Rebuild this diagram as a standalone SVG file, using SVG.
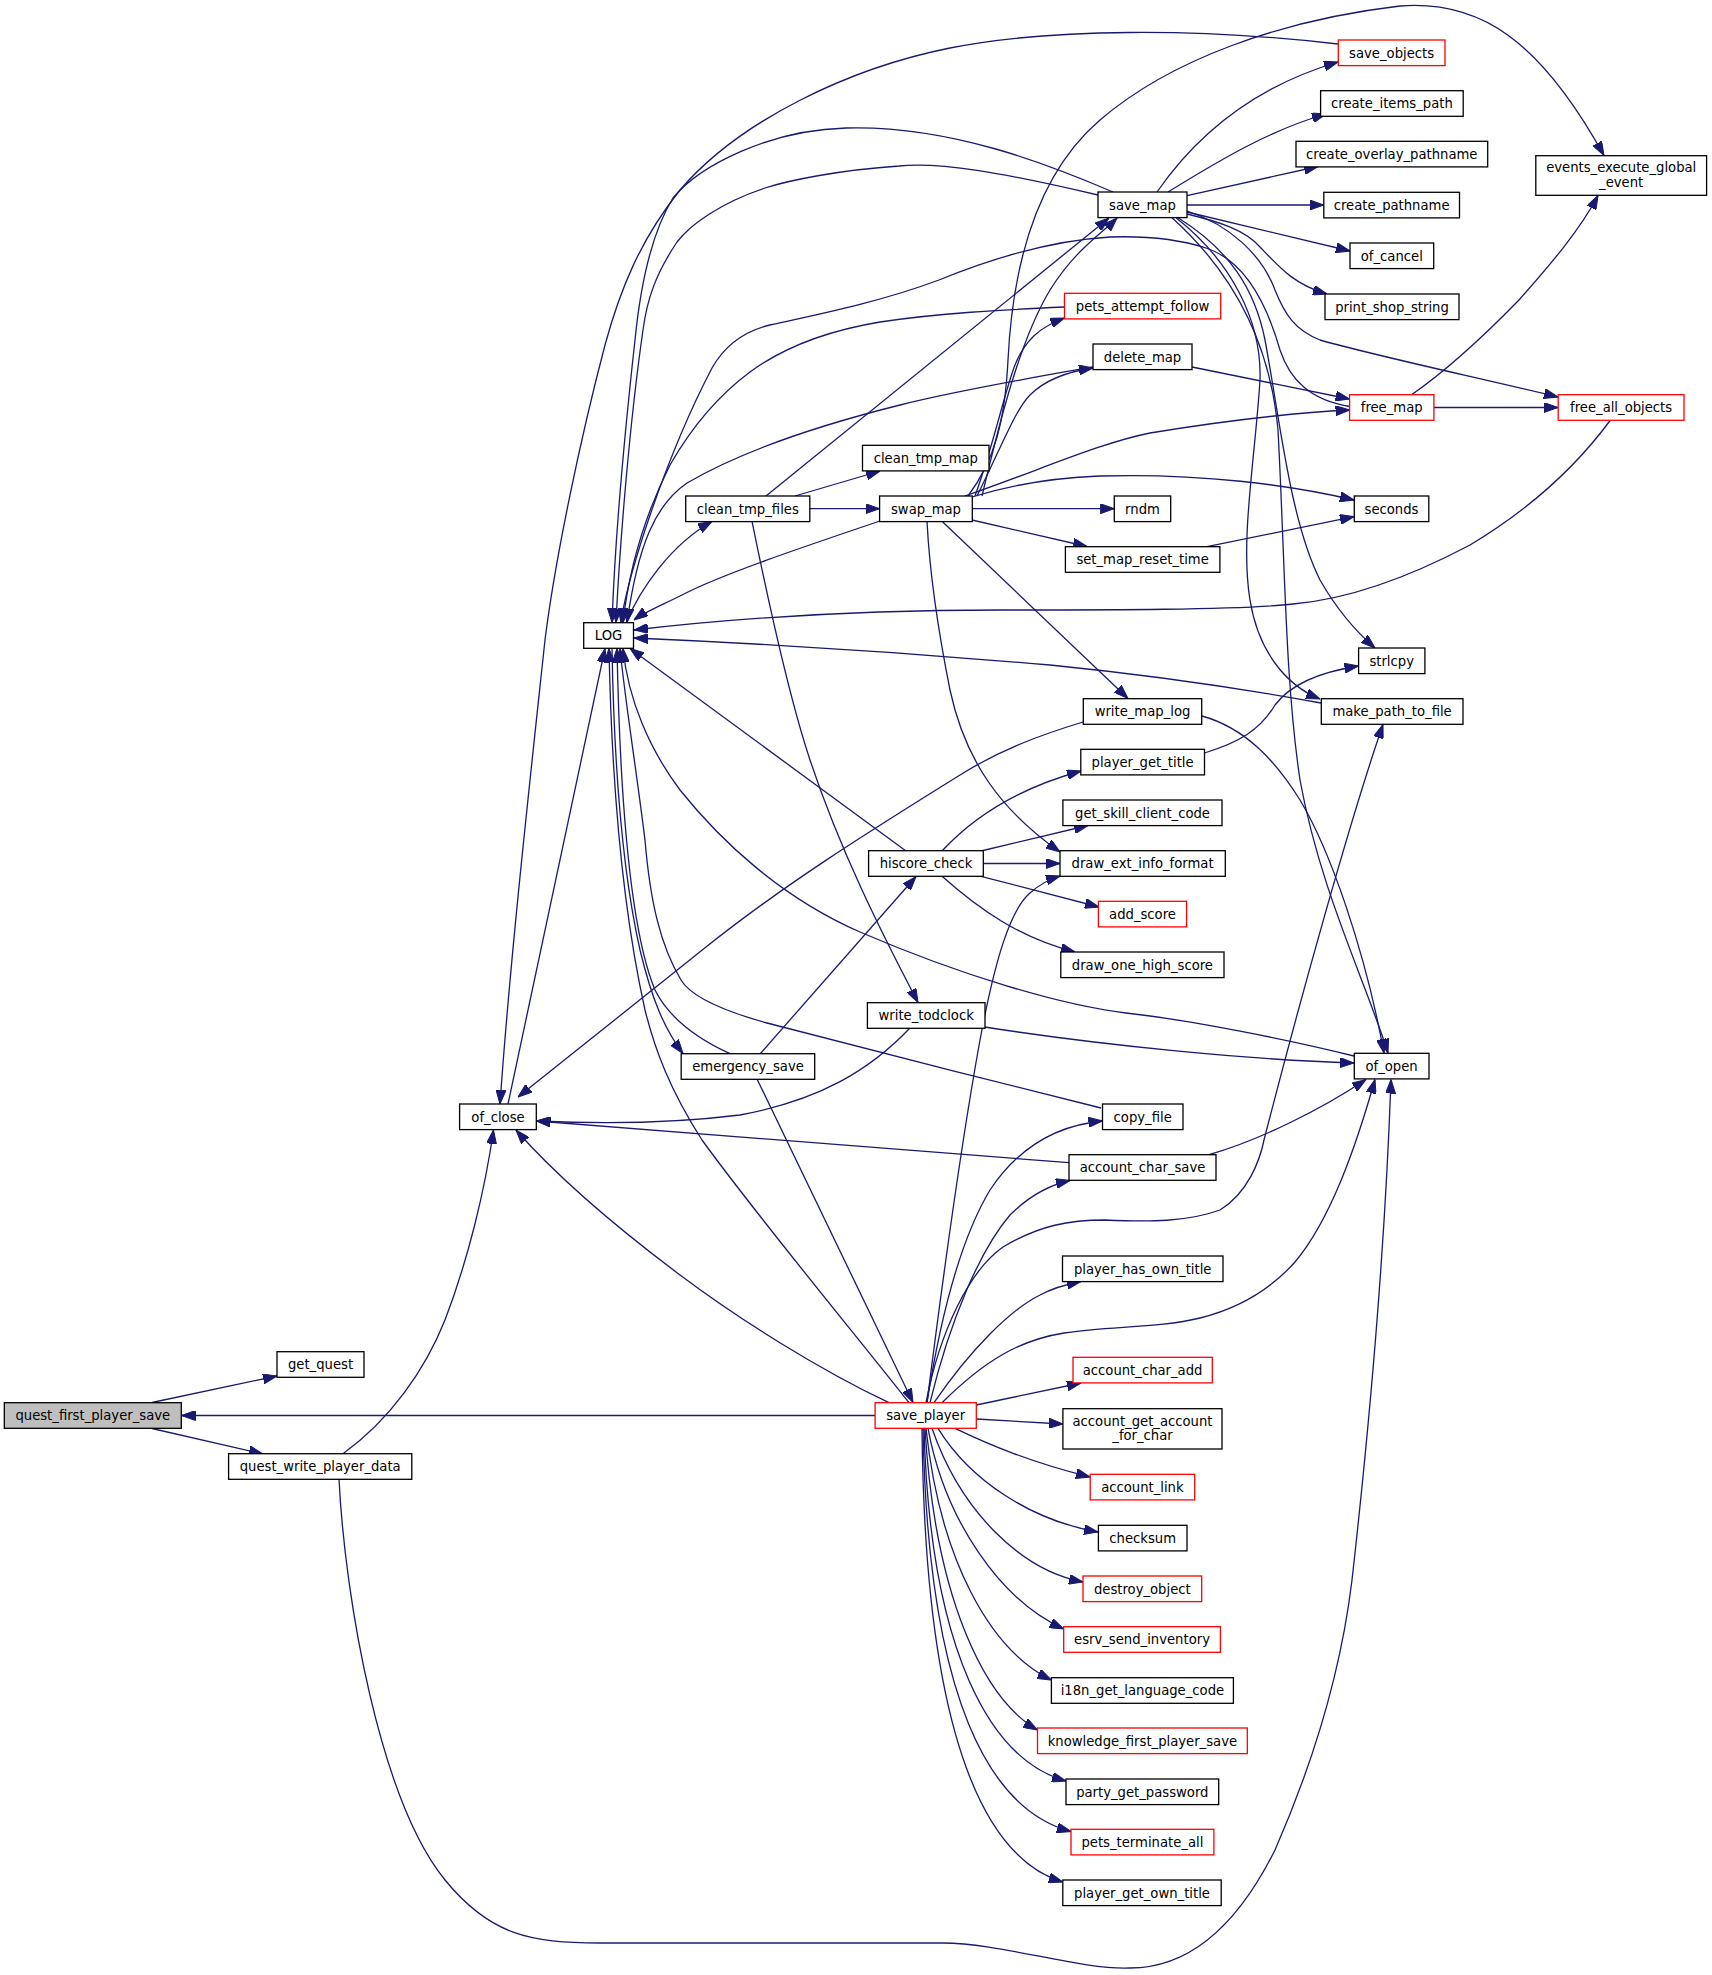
<svg xmlns="http://www.w3.org/2000/svg" width="1712" height="1975" viewBox="0 0 1712 1975">
<style>
.n rect{fill:#ffffff;stroke:#000000;stroke-width:1.3}
.n.r rect{stroke:#ff0000}
.n.root rect{fill:#bfbfbf}
.n text{font-family:"DejaVu Sans",sans-serif;font-size:13.2px;fill:#000;text-anchor:middle}
.e path{fill:none;stroke:#191970;stroke-width:1.3;marker-end:url(#ah)}
</style>
<defs>
<marker id="ah" markerUnits="userSpaceOnUse" markerWidth="14" markerHeight="10" viewBox="0 0 14 10" refX="14" refY="5" orient="auto">
<path d="M0,0 L14,5 L0,10 z" fill="#191970" stroke="#191970" stroke-width="1"/>
</marker>
</defs>
<rect width="1712" height="1975" fill="#ffffff"/>
<g id="connectors" class="e">
<path d="M152,1402.5 L277,1376"/>
<path d="M152,1428.5 L263,1454"/>
<path d="M875,1415.5 L181.5,1415.5"/>
<path d="M343,1453.7 C390,1420 425,1370 445,1320 C468,1260 485,1190 493.5,1130"/>
<path d="M339,1479 C345,1600 380,1800 445,1880 C490,1935 530,1943 600,1943 L943,1943 C1000,1943 1080,1970 1130,1968 C1200,1968 1245,1910 1275,1850 C1310,1770 1340,1680 1352,1580 C1370,1420 1385,1250 1391,1079.5"/>
<path d="M508,1104 L605,648.5"/>
<path d="M1338,44 C1200,28 1050,28 950,48 C850,68 740,120 680,190 C640,240 620,290 605,345 C580,440 555,560 545,640 C530,780 510,960 500,1104"/>
<path d="M1113,192 C1050,165 950,125 846,128 C770,130 700,165 673,198 C650,235 640,290 635,340 C625,430 615,540 612,622.5"/>
<path d="M1098,195 C1000,172 940,162 899,166 C840,170 790,180 765,188 C720,203 690,225 677,242 C655,275 647,300 643,330 C630,420 620,540 616,622.5"/>
<path d="M1349.6,406.5 C1310,400 1290,380 1280,350 C1270,315 1250,262 1206,248 C1175,238 1140,236 1110,237 C1060,240 1000,255 939,280 C880,302 820,314 770,325 C745,331 725,345 712,368 C690,410 665,470 645,530 C632,570 624,600 621,622.5"/>
<path d="M1064.5,307 C1000,310 940,313 880,322 C820,332 780,350 750,372 C715,398 690,430 670,465 C650,505 630,560 623,622.5"/>
<path d="M1093,367 C1030,378 960,390 900,405 C820,425 740,452 687,483 C655,505 638,545 627,622.5"/>
<path d="M626,622.7 C640,590 670,545 712,521.5"/>
<path d="M880,521 C800,548 720,575 682,595 C660,606 645,612 634,620"/>
<path d="M1610.5,420 C1570,475 1520,515 1470,545 C1400,582 1340,600 1293,604 C1240,610 1100,610 1000,610 C850,610 720,620 634,630"/>
<path d="M1321,703 C1250,690 1150,675 1050,665 C900,652 750,643 634,638"/>
<path d="M1354,1056 C1290,1040 1190,1020 1126,1013 C1060,1005 960,975 860,932 C780,897 720,840 680,790 C650,750 628,700 623,648.5"/>
<path d="M1101,1108 C1000,1083 850,1045 767,1023 C720,1010 690,995 681,980 C660,945 650,900 645,840 C635,760 625,700 620,648.5"/>
<path d="M906,851 L630,648.5"/>
<path d="M612,648.5 C614,760 622,870 640,950 C652,1000 665,1030 683,1053.5"/>
<path d="M730,1053.7 C700,1040 670,1020 655,990 C630,930 620,800 617,648.5"/>
<path d="M760,1054 L916,876.5"/>
<path d="M757,1079 L913,1402.5"/>
<path d="M942,851 C980,810 1030,785 1081,771"/>
<path d="M981,851 L1088,825.5"/>
<path d="M983.3,863.5 L1060,863.5"/>
<path d="M981,876.3 L1099,907"/>
<path d="M942,876.3 C980,910 1020,938 1075,952"/>
<path d="M927,521.3 C930,580 940,640 950,690 C965,760 1000,810 1060,852"/>
<path d="M927,1402.7 C940,1300 960,1150 980,1040 C995,960 1010,910 1030,893 C1040,884 1050,879 1060,876"/>
<path d="M942,521.3 L1128,698.5"/>
<path d="M752,521.3 C770,610 790,700 810,760 C840,850 880,930 918,1002.5"/>
<path d="M910,1028 C870,1070 820,1100 740,1115 C660,1125 580,1123 536.5,1121"/>
<path d="M984.5,1027 C1100,1045 1250,1060 1354,1063"/>
<path d="M1083,722 C1040,735 1000,750 960,775 C880,825 790,880 706,947 C640,1000 570,1055 518,1097"/>
<path d="M1202,716 C1245,728 1275,760 1300,800 C1330,850 1365,950 1384,1053"/>
<path d="M1204.5,753 C1240,742 1260,730 1275,705 C1290,685 1320,672 1358.5,666"/>
<path d="M1178,217.7 C1230,250 1255,290 1265,340 C1280,420 1290,520 1320,580 C1340,615 1360,635 1375,648"/>
<path d="M1176,217.7 C1230,260 1262,320 1260,380 C1255,460 1240,540 1250,600 C1258,650 1285,685 1320,699"/>
<path d="M1172,217.7 C1230,270 1270,340 1278,430 C1285,560 1285,680 1300,780 C1320,890 1365,980 1388,1053"/>
<path d="M1157,192 C1200,130 1260,85 1338,62"/>
<path d="M1168,192 C1220,160 1270,130 1326,114"/>
<path d="M1187,195.7 L1318,166.5"/>
<path d="M1187,205 L1323.8,205"/>
<path d="M1187,212 L1350,251"/>
<path d="M1187,214 C1220,222 1245,230 1260,247 C1280,268 1295,285 1327,294"/>
<path d="M1187,211 C1230,225 1262,255 1275,290 C1285,315 1295,330 1320,340 C1380,357 1480,378 1558,397"/>
<path d="M1192,367 L1349.6,399"/>
<path d="M965,496 C1040,470 1100,443 1150,433 C1230,420 1290,413 1349.6,410"/>
<path d="M1434,407.5 L1558,407.5"/>
<path d="M1411.6,394.7 C1440,375 1480,340 1519,300 C1550,265 1580,230 1598,195.5"/>
<path d="M968,496 C995,460 1005,420 1008,360 C1012,280 1030,180 1100,120 C1170,60 1280,20 1400,6 C1480,0 1540,40 1604,155.5"/>
<path d="M975,496 C995,440 1005,390 1015,365 C1025,340 1040,327 1064.5,318"/>
<path d="M977,496 C1000,450 1015,410 1030,395 C1045,380 1065,372 1093,368"/>
<path d="M982,496 C1000,420 1020,340 1050,290 C1075,250 1100,235 1117,218"/>
<path d="M766,496 L1109,218"/>
<path d="M795,496 L880,471"/>
<path d="M810,508.7 L879.6,508.7"/>
<path d="M972.3,508.7 L1114.3,508.7"/>
<path d="M972,520 L1087,546.5"/>
<path d="M972,497 C1010,485 1050,478 1100,476 C1200,473 1290,485 1354,500"/>
<path d="M1207,546.7 L1354,516.7"/>
<path d="M1069,1162.7 L536.5,1121"/>
<path d="M1209,1154.7 C1260,1140 1320,1110 1366,1079.5"/>
<path d="M889,1402.7 C820,1370 740,1320 680,1275 C620,1230 560,1180 516,1130"/>
<path d="M909,1402.7 C860,1340 760,1220 702,1140 C670,1090 655,1050 645,1010 C625,920 612,800 609,648.5"/>
<path d="M926,1402.7 C940,1330 970,1270 1003,1247 C1040,1225 1070,1220 1105,1220 C1150,1222 1187,1222 1220,1210 C1248,1193 1260,1160 1264,1140 C1300,1000 1350,820 1383,724.5"/>
<path d="M942,1402.7 C985,1360 1020,1340 1064,1333 C1110,1326 1160,1328 1200,1318 C1240,1308 1270,1290 1295,1262 C1330,1220 1355,1150 1375,1079.5"/>
<path d="M927,1402.7 C940,1320 960,1240 990,1190 C1020,1145 1060,1125 1102.5,1121"/>
<path d="M930,1402.7 C950,1320 980,1250 1010,1215 C1030,1195 1050,1185 1070,1180.5"/>
<path d="M934,1402.7 C970,1350 1010,1310 1040,1295 C1055,1287 1068,1284 1081,1281.5"/>
<path d="M976.3,1405 L1081,1383"/>
<path d="M976.3,1419 L1063,1424"/>
<path d="M955,1428.3 C990,1445 1030,1462 1090,1477"/>
<path d="M938,1428.3 C970,1480 1030,1520 1098,1532"/>
<path d="M932,1428.3 C960,1510 1020,1570 1083,1582"/>
<path d="M928,1428.3 C945,1520 1000,1600 1063.7,1629"/>
<path d="M926,1428.3 C940,1560 990,1650 1051.4,1680"/>
<path d="M925,1428.3 C935,1600 985,1700 1037.5,1730"/>
<path d="M924,1428.3 C930,1650 990,1760 1066,1781"/>
<path d="M923,1428.3 C928,1700 990,1810 1071,1831.5"/>
<path d="M922,1428.3 C925,1750 990,1860 1062.8,1882"/>
</g>
<g id="node_quest_first_player_save" class="n root"><rect x="4.3" y="1402.7" width="177" height="25.6"/><text x="92.8" y="1420.2">quest_first_player_save</text></g>
<g id="node_get_quest" class="n"><rect x="277" y="1351.7" width="87" height="25.6"/><text x="320.5" y="1369.2">get_quest</text></g>
<g id="node_quest_write_player_data" class="n"><rect x="228.6" y="1453.7" width="183.2" height="25.6"/><text x="320.2" y="1471.2">quest_write_player_data</text></g>
<g id="node_save_player" class="n r"><rect x="875.1" y="1402.7" width="101.2" height="25.6"/><text x="925.7" y="1420.2">save_player</text></g>
<g id="node_of_close" class="n"><rect x="459.6" y="1104" width="76.7" height="25.6"/><text x="498" y="1121.5">of_close</text></g>
<g id="node_LOG" class="n"><rect x="583.7" y="622.7" width="49.8" height="25.6"/><text x="608.6" y="640.2">LOG</text></g>
<g id="node_emergency_save" class="n"><rect x="681.2" y="1053.7" width="133.5" height="25.6"/><text x="748" y="1071.2">emergency_save</text></g>
<g id="node_clean_tmp_files" class="n"><rect x="685.7" y="496" width="124.1" height="25.6"/><text x="747.8" y="513.5">clean_tmp_files</text></g>
<g id="node_swap_map" class="n"><rect x="879.6" y="496" width="92.7" height="25.6"/><text x="926" y="513.5">swap_map</text></g>
<g id="node_clean_tmp_map" class="n"><rect x="862.5" y="445.3" width="126.5" height="25.6"/><text x="925.8" y="462.8">clean_tmp_map</text></g>
<g id="node_hiscore_check" class="n"><rect x="868.6" y="850.7" width="114.7" height="25.6"/><text x="926" y="868.2">hiscore_check</text></g>
<g id="node_write_todclock" class="n"><rect x="867.4" y="1002.7" width="117.6" height="25.6"/><text x="926.2" y="1020.2">write_todclock</text></g>
<g id="node_save_map" class="n"><rect x="1098" y="192" width="89" height="25.6"/><text x="1142.5" y="209.5">save_map</text></g>
<g id="node_pets_attempt_follow" class="n r"><rect x="1064.5" y="293.3" width="156.2" height="25.6"/><text x="1142.6" y="310.8">pets_attempt_follow</text></g>
<g id="node_delete_map" class="n"><rect x="1093" y="344" width="99" height="25.6"/><text x="1142.5" y="361.5">delete_map</text></g>
<g id="node_set_map_reset_time" class="n"><rect x="1065.4" y="546.7" width="154.5" height="25.6"/><text x="1142.6" y="564.2">set_map_reset_time</text></g>
<g id="node_write_map_log" class="n"><rect x="1083.3" y="698.7" width="118.4" height="25.6"/><text x="1142.5" y="716.2">write_map_log</text></g>
<g id="node_player_get_title" class="n"><rect x="1080.8" y="749.3" width="123.7" height="25.6"/><text x="1142.6" y="766.8">player_get_title</text></g>
<g id="node_get_skill_client_code" class="n"><rect x="1062.9" y="800" width="159.1" height="25.6"/><text x="1142.5" y="817.5">get_skill_client_code</text></g>
<g id="node_draw_ext_info_format" class="n"><rect x="1060" y="850.7" width="165.3" height="25.6"/><text x="1142.6" y="868.2">draw_ext_info_format</text></g>
<g id="node_add_score" class="n r"><rect x="1098.4" y="901.3" width="88.2" height="25.6"/><text x="1142.5" y="918.8">add_score</text></g>
<g id="node_draw_one_high_score" class="n"><rect x="1060.8" y="952" width="163.2" height="25.6"/><text x="1142.4" y="969.5">draw_one_high_score</text></g>
<g id="node_copy_file" class="n"><rect x="1102.5" y="1104" width="80.5" height="25.6"/><text x="1142.7" y="1121.5">copy_file</text></g>
<g id="node_account_char_save" class="n"><rect x="1069" y="1154.7" width="147" height="25.6"/><text x="1142.5" y="1172.2">account_char_save</text></g>
<g id="node_player_has_own_title" class="n"><rect x="1062.5" y="1256" width="160.5" height="25.6"/><text x="1142.7" y="1273.5">player_has_own_title</text></g>
<g id="node_account_char_add" class="n r"><rect x="1073" y="1357.3" width="139.3" height="25.6"/><text x="1142.6" y="1374.8">account_char_add</text></g>
<g id="node_account_get_account_for_char" class="n"><rect x="1062.9" y="1408.7" width="159.1" height="40.3"/><text x="1142.5" y="1425.6">account_get_account</text><text x="1142.5" y="1440.3">_for_char</text></g>
<g id="node_account_link" class="n r"><rect x="1090.2" y="1474.3" width="104.5" height="25.6"/><text x="1142.4" y="1491.8">account_link</text></g>
<g id="node_checksum" class="n"><rect x="1098.4" y="1525.3" width="88.6" height="25.6"/><text x="1142.7" y="1542.8">checksum</text></g>
<g id="node_destroy_object" class="n r"><rect x="1083" y="1576" width="118.7" height="25.6"/><text x="1142.3" y="1593.5">destroy_object</text></g>
<g id="node_esrv_send_inventory" class="n r"><rect x="1063.7" y="1626.7" width="156.7" height="25.6"/><text x="1142" y="1644.2">esrv_send_inventory</text></g>
<g id="node_i18n_get_language_code" class="n"><rect x="1051.4" y="1677.7" width="182" height="25.6"/><text x="1142.4" y="1695.2">i18n_get_language_code</text></g>
<g id="node_knowledge_first_player_save" class="n r"><rect x="1037.5" y="1728" width="209.8" height="25.6"/><text x="1142.4" y="1745.5">knowledge_first_player_save</text></g>
<g id="node_party_get_password" class="n"><rect x="1066" y="1779" width="152.7" height="25.6"/><text x="1142.3" y="1796.5">party_get_password</text></g>
<g id="node_pets_terminate_all" class="n r"><rect x="1071" y="1829.3" width="142.9" height="25.6"/><text x="1142.4" y="1846.8">pets_terminate_all</text></g>
<g id="node_player_get_own_title" class="n"><rect x="1062.8" y="1880" width="158.4" height="25.6"/><text x="1142" y="1897.5">player_get_own_title</text></g>
<g id="node_rndm" class="n"><rect x="1114.3" y="496" width="56.4" height="25.6"/><text x="1142.5" y="513.5">rndm</text></g>
<g id="node_save_objects" class="n r"><rect x="1338.3" y="40" width="106.7" height="25.6"/><text x="1391.6" y="57.5">save_objects</text></g>
<g id="node_create_items_path" class="n"><rect x="1320.6" y="90.7" width="142.6" height="25.6"/><text x="1391.9" y="108.2">create_items_path</text></g>
<g id="node_create_overlay_pathname" class="n"><rect x="1296" y="141.3" width="191.7" height="25.6"/><text x="1391.8" y="158.8">create_overlay_pathname</text></g>
<g id="node_create_pathname" class="n"><rect x="1323.8" y="192.3" width="135.7" height="25.6"/><text x="1391.6" y="209.8">create_pathname</text></g>
<g id="node_of_cancel" class="n"><rect x="1350" y="243" width="83.7" height="25.6"/><text x="1391.8" y="260.5">of_cancel</text></g>
<g id="node_print_shop_string" class="n"><rect x="1325" y="294" width="134" height="25.6"/><text x="1392" y="311.5">print_shop_string</text></g>
<g id="node_free_map" class="n r"><rect x="1349.6" y="394.7" width="84.3" height="25.6"/><text x="1391.7" y="412.2">free_map</text></g>
<g id="node_seconds" class="n"><rect x="1354.3" y="496" width="74.5" height="25.6"/><text x="1391.5" y="513.5">seconds</text></g>
<g id="node_strlcpy" class="n"><rect x="1358.6" y="648" width="66.3" height="25.6"/><text x="1391.7" y="665.5">strlcpy</text></g>
<g id="node_make_path_to_file" class="n"><rect x="1321.3" y="698.7" width="141.7" height="25.6"/><text x="1392.1" y="716.2">make_path_to_file</text></g>
<g id="node_of_open" class="n"><rect x="1354.3" y="1053.3" width="74.7" height="25.6"/><text x="1391.6" y="1070.8">of_open</text></g>
<g id="node_events_execute_global_event" class="n"><rect x="1535.8" y="155.7" width="170.8" height="39.6"/><text x="1621.2" y="172.3">events_execute_global</text><text x="1621.2" y="186.8">_event</text></g>
<g id="node_free_all_objects" class="n r"><rect x="1558.2" y="394.7" width="125.8" height="25.6"/><text x="1621.1" y="412.2">free_all_objects</text></g>
</svg>
